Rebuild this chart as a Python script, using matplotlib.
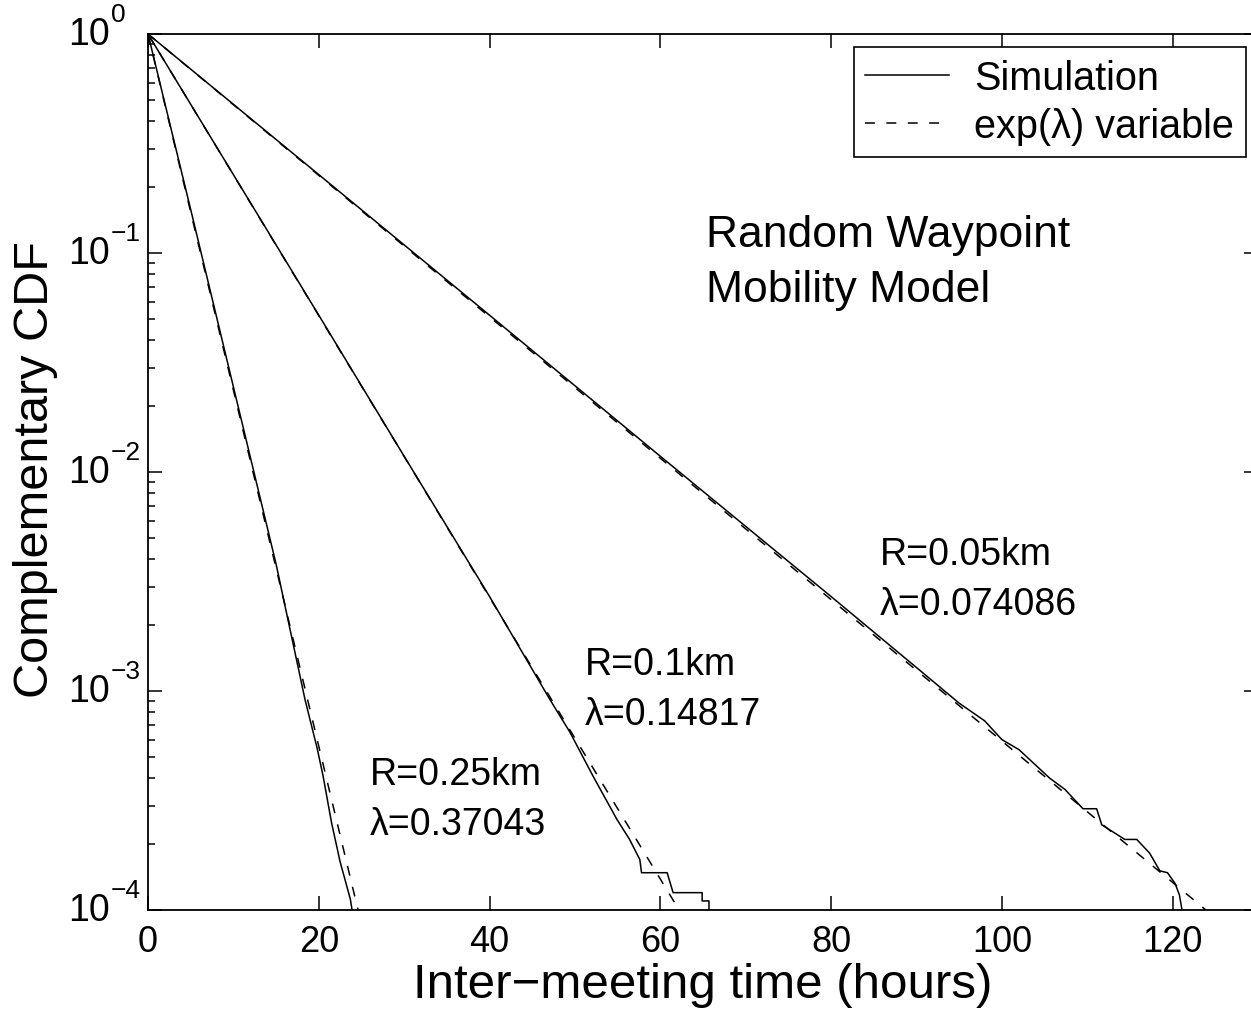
import matplotlib
matplotlib.use("Agg")
import matplotlib.pyplot as plt
import matplotlib.transforms as mtransforms
from matplotlib.lines import Line2D

plt.rcParams['font.family'] = ['Liberation Sans', 'DejaVu Sans']

# simulated CCDF curves (hours, CCDF)
sim_r025_x = [0, 5, 10, 15, 18.4, 19.8, 20.5, 21.5, 22.5, 23.7, 23.9]
sim_r025_y = [1, 0.158, 0.0245, 3.8e-3, 9.1e-4, 5.5e-4, 4.1e-4, 2.5e-4, 1.66e-4, 1.12e-4, 1e-4]

sim_r01_x = [0, 10, 20, 30, 40, 47.1, 49.4, 52.1, 54.9, 56.4, 57.6, 57.8, 60.8,
             61.5, 64.9, 64.9, 65.7, 65.7]
sim_r01_y = [1, 0.228, 0.052, 0.0118, 2.7e-3, 9.1e-4, 6.5e-4, 4.1e-4, 2.6e-4,
             2.1e-4, 1.7e-4, 1.48e-4, 1.48e-4, 1.2e-4, 1.2e-4, 1.1e-4, 1.1e-4, 1e-4]

sim_r005_x = [0, 20, 40, 60, 80, 90, 95, 98, 100, 102, 105.6, 107.4, 109.5,
              111.1, 111.7, 114.4, 115.8, 117.3, 118.5, 119.4, 120.3, 120.8, 121.1]
sim_r005_y = [1, 0.228, 0.052, 0.0118, 2.7e-3, 1.28e-3, 8.8e-4, 7.3e-4, 6.0e-4,
              5.4e-4, 4.0e-4, 3.55e-4, 2.9e-4, 2.9e-4, 2.45e-4, 2.1e-4, 2.1e-4,
              1.82e-4, 1.51e-4, 1.48e-4, 1.32e-4, 1.17e-4, 1e-4]

# exponential fits: straight lines on log scale, endpoints
exp_r025_x = [0, 24.6]
exp_r01_x = [0, 62.2]
exp_r005_x = [0, 123.9]
exp_y = [1, 1e-4]

y_ticks = [1, 1e-1, 1e-2, 1e-3, 1e-4]
y_exponents = ["0", "\u22121", "\u22122", "\u22123", "\u22124"]

labels_R = ["R=0.25km", "R=0.1km", "R=0.05km"]
labels_lam = ["λ=0.37043", "λ=0.14817", "λ=0.074086"]
label_x = [26.0, 51.2, 85.7]
label_y1 = [10**-3.379, 10**-2.877, 10**-2.374]
label_y2 = [10**-3.607, 10**-3.105, 10**-2.603]

fig = plt.figure(figsize=(12.51, 10.12), dpi=100)
ax = fig.add_axes([148/1251, 1 - 911/1012, (1258 - 148)/1251, (911 - 35)/1012])

lw = 1.1
dash = (0, (6.5, 7.5))
for xs, ys in [(sim_r025_x, sim_r025_y), (sim_r01_x, sim_r01_y), (sim_r005_x, sim_r005_y)]:
    ax.plot(xs, ys, color='black', lw=lw)
for xs in [exp_r025_x, exp_r01_x, exp_r005_x]:
    ax.plot(xs, exp_y, color='black', lw=lw, linestyle=dash)

ax.set_yscale('log')
ax.set_xlim(0, 130)
ax.set_ylim(1e-4, 1)
ax.set_xticks([0, 20, 40, 60, 80, 100, 120])
ax.set_yticks(y_ticks)
ax.set_yticklabels([])
ax.tick_params(axis='both', which='both', direction='in', top=True, right=True,
               labelsize=26, width=1.1, pad=10)
ax.tick_params(axis='both', which='major', length=10)
ax.tick_params(axis='y', which='minor', length=5)
ax.tick_params(axis='x', which='minor', length=0)
for s in ax.spines.values():
    s.set_linewidth(1.3)

# MATLAB-style 10^n tick labels
blend = mtransforms.blended_transform_factory(ax.transAxes, ax.transData)
x_base = (110 - 148) / 1110
sup_tr = blend + mtransforms.ScaledTranslation(1/100, 20/100, fig.dpi_scale_trans)
for v, e in zip(y_ticks, y_exponents):
    ax.text(x_base, v, "10", transform=blend, fontsize=27, ha='right', va='center')
    ax.text(x_base, v, e, transform=sup_tr, fontsize=19, ha='left', va='center')

ax.set_xlabel("Inter\u2212meeting time (hours)", fontsize=35.5, labelpad=2)
fig.text(36/1251, 1 - 470/1012, "Complementary CDF", fontsize=35, rotation=90,
         ha='center', va='center')

for x, y1, y2, t1, t2 in zip(label_x, label_y1, label_y2, labels_R, labels_lam):
    ax.text(x, y1, t1, fontsize=27, va='center', ha='left')
    ax.text(x, y2, t2, fontsize=27, va='center', ha='left')

ax.text(65.3, 10**-0.968, "Random Waypoint", fontsize=32, va='baseline', ha='left')
ax.text(65.3, 10**-1.219, "Mobility Model", fontsize=32, va='baseline', ha='left')

handles = [Line2D([], [], color='black', lw=lw),
           Line2D([], [], color='black', lw=lw, linestyle=dash)]
leg = ax.legend(handles, ["Simulation", "exp(λ) variable"], fontsize=28.5,
                loc='upper right', bbox_to_anchor=(1246/1251, 1 - 48/1012),
                bbox_transform=fig.transFigure, fancybox=False, framealpha=1,
                edgecolor='black', handlelength=2.1, handletextpad=0.65,
                borderpad=0.3, labelspacing=0.25, borderaxespad=0)
leg.get_frame().set_linewidth(1.2)

fig.savefig("out.png", dpi=100)
